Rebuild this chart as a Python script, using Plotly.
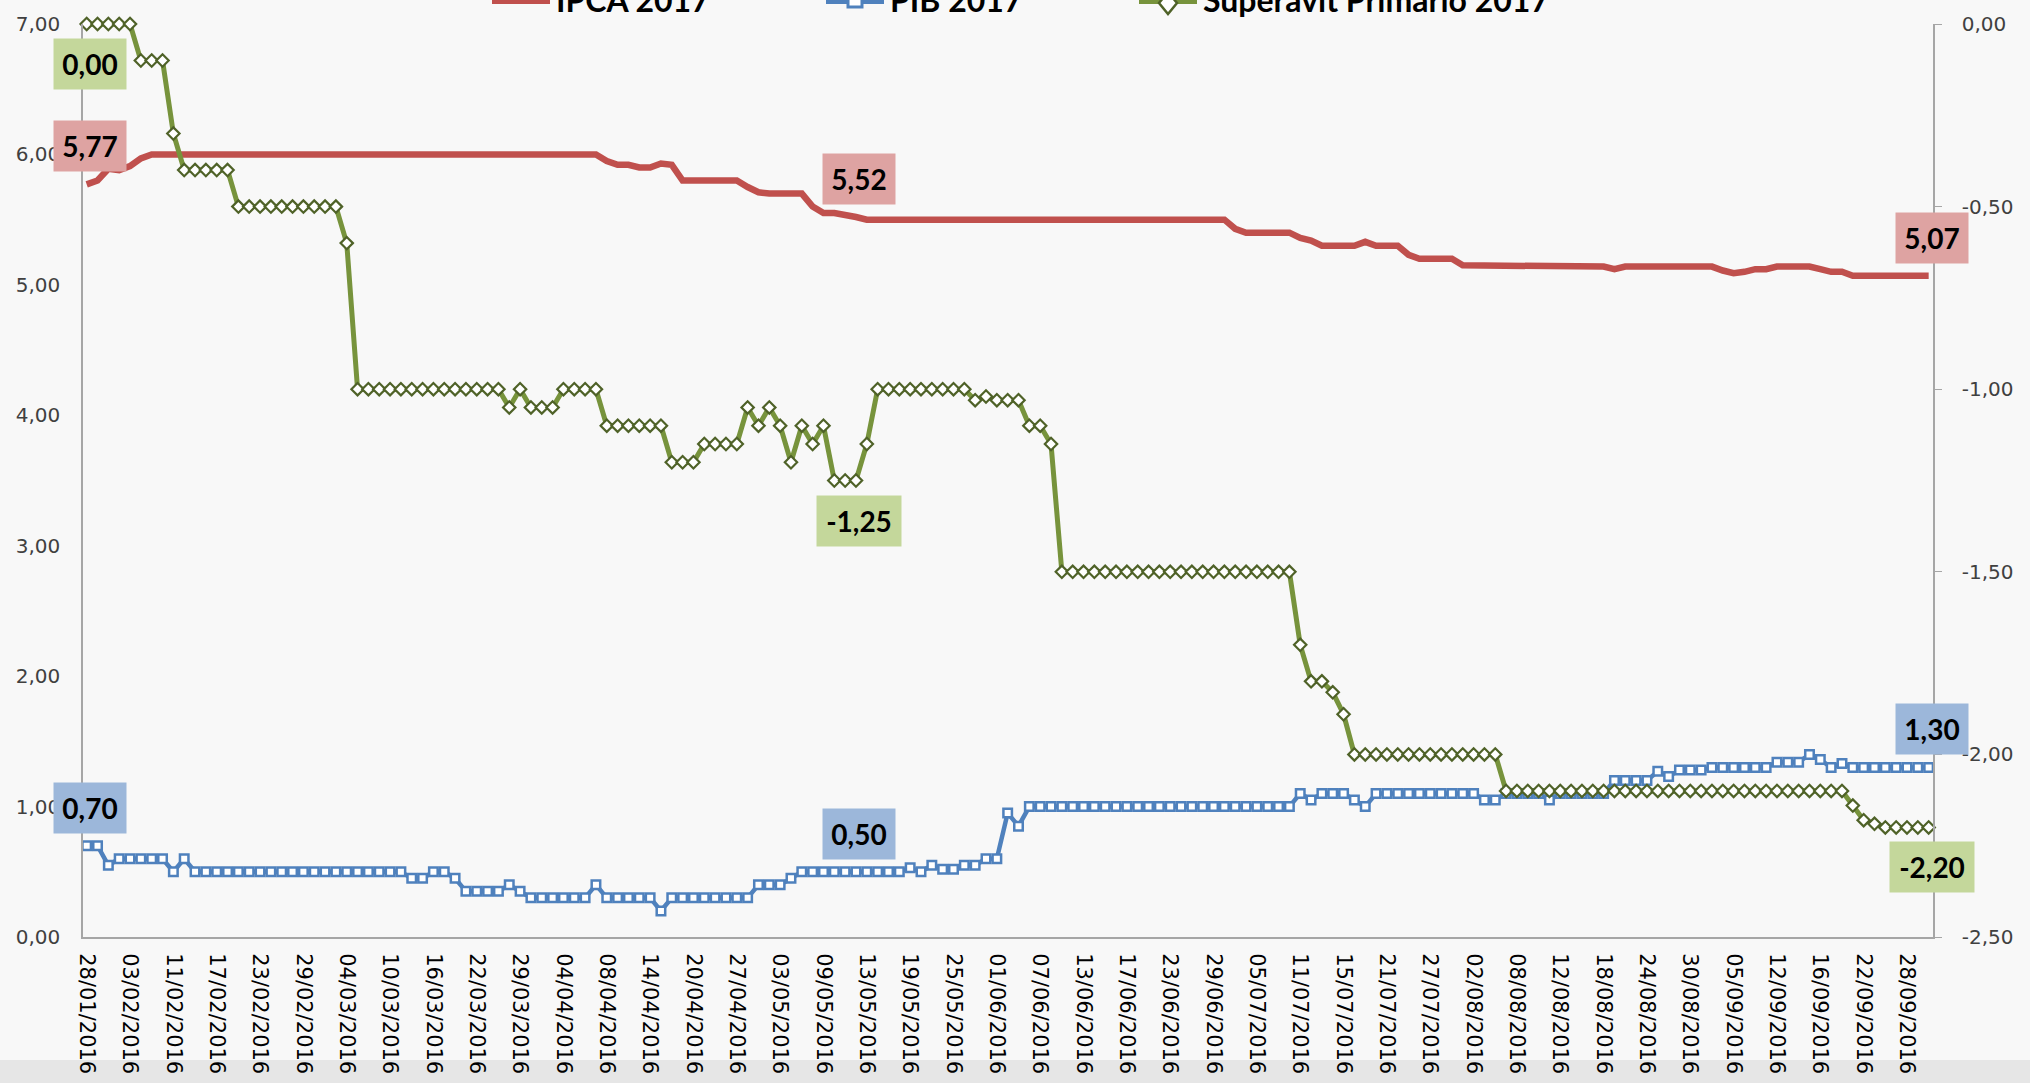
import plotly.graph_objects as go

# Focus survey business days of 2016 (holidays skipped), per month
MONTH_DAYS = {
    "01": [28, 29],
    "02": [1, 2, 3, 4, 5, 10, 11, 12, 15, 16, 17, 18, 19, 22, 23, 24, 25, 26, 29],
    "03": [1, 2, 3, 4, 7, 8, 9, 10, 11, 14, 15, 16, 17, 18, 21, 22, 23, 24, 28, 29, 30, 31],
    "04": [1, 4, 5, 6, 7, 8, 11, 12, 13, 14, 15, 18, 19, 20, 22, 25, 26, 27, 28, 29],
    "05": [2, 3, 4, 5, 6, 9, 10, 11, 12, 13, 16, 17, 18, 19, 20, 23, 24, 25, 27, 30, 31],
    "06": [1, 2, 3, 6, 7, 8, 9, 10, 13, 14, 15, 16, 17, 20, 21, 22, 23, 24, 27, 28, 29, 30],
    "07": [1, 4, 5, 6, 7, 8, 11, 12, 13, 14, 15, 18, 19, 20, 21, 22, 25, 26, 27, 28, 29],
    "08": [1, 2, 3, 4, 5, 8, 9, 10, 11, 12, 15, 16, 17, 18, 19, 22, 23, 24, 25, 26, 29, 30, 31],
    "09": [1, 2, 5, 6, 8, 9, 12, 13, 14, 15, 16, 19, 20, 21, 22, 23, 26, 27, 28, 29, 30],
}
dates = [f"{d:02d}/{m}/2016" for m, days in MONTH_DAYS.items() for d in days]

TICK_LABELS = [
    "28/01/2016", "03/02/2016", "11/02/2016", "17/02/2016", "23/02/2016", "29/02/2016",
    "04/03/2016", "10/03/2016", "16/03/2016", "22/03/2016", "29/03/2016", "04/04/2016",
    "08/04/2016", "14/04/2016", "20/04/2016", "27/04/2016", "03/05/2016", "09/05/2016",
    "13/05/2016", "19/05/2016", "25/05/2016", "01/06/2016", "07/06/2016", "13/06/2016",
    "17/06/2016", "23/06/2016", "29/06/2016", "05/07/2016", "11/07/2016", "15/07/2016",
    "21/07/2016", "27/07/2016", "02/08/2016", "08/08/2016", "12/08/2016", "18/08/2016",
    "24/08/2016", "30/08/2016", "05/09/2016", "12/09/2016", "16/09/2016", "22/09/2016",
    "28/09/2016",
]

LEFT_TICKS = [0, 1, 2, 3, 4, 5, 6, 7]
LEFT_TICK_TEXT = ["0,00", "1,00", "2,00", "3,00", "4,00", "5,00", "6,00", "7,00"]
RIGHT_TICKS = [0, -0.5, -1.0, -1.5, -2.0, -2.5]
RIGHT_TICK_TEXT = ["0,00", "-0,50", "-1,00", "-1,50", "-2,00", "-2,50"]

ipca = [
    5.77, 5.80, 5.89, 5.88, 5.91, 5.97, 6.00, 6.00, 6.00, 6.00, 6.00, 6.00,
    6.00, 6.00, 6.00, 6.00, 6.00, 6.00, 6.00, 6.00, 6.00, 6.00, 6.00, 6.00,
    6.00, 6.00, 6.00, 6.00, 6.00, 6.00, 6.00, 6.00, 6.00, 6.00, 6.00, 6.00,
    6.00, 6.00, 6.00, 6.00, 6.00, 6.00, 6.00, 6.00, 6.00, 6.00, 6.00, 6.00,
    5.95, 5.92, 5.92, 5.90, 5.90, 5.93, 5.92, 5.80, 5.80, 5.80, 5.80, 5.80,
    5.80, 5.75, 5.71, 5.70, 5.70, 5.70, 5.70, 5.60, 5.55, 5.55, 5.54, 5.52,
    5.50, 5.50, 5.50, 5.50, 5.50, 5.50, 5.50, 5.50, 5.50, 5.50, 5.50, 5.50,
    5.50, 5.50, 5.50, 5.50, 5.50, 5.50, 5.50, 5.50, 5.50, 5.50, 5.50, 5.50,
    5.50, 5.50, 5.50, 5.50, 5.50, 5.50, 5.50, 5.50, 5.50, 5.50, 5.43, 5.40,
    5.40, 5.40, 5.40, 5.40, 5.36, 5.34, 5.30, 5.30, 5.30, 5.30, 5.33, 5.30,
    5.30, 5.30, 5.23, 5.20, 5.20, 5.20, 5.20, 5.15, 5.15, 5.15, 5.15, 5.14,
    5.14, 5.14, 5.14, 5.14, 5.14, 5.14, 5.14, 5.14, 5.14, 5.12, 5.14, 5.14,
    5.14, 5.14, 5.14, 5.14, 5.14, 5.14, 5.14, 5.11, 5.09, 5.10, 5.12, 5.12,
    5.14, 5.14, 5.14, 5.14, 5.12, 5.10, 5.10, 5.07, 5.07, 5.07, 5.07, 5.07,
    5.07, 5.07, 5.07,
]

pib = [
    0.70, 0.70, 0.55, 0.60, 0.60, 0.60, 0.60, 0.60, 0.50, 0.60, 0.50, 0.50,
    0.50, 0.50, 0.50, 0.50, 0.50, 0.50, 0.50, 0.50, 0.50, 0.50, 0.50, 0.50,
    0.50, 0.50, 0.50, 0.50, 0.50, 0.50, 0.45, 0.45, 0.50, 0.50, 0.45, 0.35,
    0.35, 0.35, 0.35, 0.40, 0.35, 0.30, 0.30, 0.30, 0.30, 0.30, 0.30, 0.40,
    0.30, 0.30, 0.30, 0.30, 0.30, 0.20, 0.30, 0.30, 0.30, 0.30, 0.30, 0.30,
    0.30, 0.30, 0.40, 0.40, 0.40, 0.45, 0.50, 0.50, 0.50, 0.50, 0.50, 0.50,
    0.50, 0.50, 0.50, 0.50, 0.53, 0.50, 0.55, 0.52, 0.52, 0.55, 0.55, 0.60,
    0.60, 0.95, 0.85, 1.00, 1.00, 1.00, 1.00, 1.00, 1.00, 1.00, 1.00, 1.00,
    1.00, 1.00, 1.00, 1.00, 1.00, 1.00, 1.00, 1.00, 1.00, 1.00, 1.00, 1.00,
    1.00, 1.00, 1.00, 1.00, 1.10, 1.05, 1.10, 1.10, 1.10, 1.05, 1.00, 1.10,
    1.10, 1.10, 1.10, 1.10, 1.10, 1.10, 1.10, 1.10, 1.10, 1.05, 1.05, 1.10,
    1.10, 1.10, 1.10, 1.05, 1.10, 1.10, 1.10, 1.10, 1.10, 1.20, 1.20, 1.20,
    1.20, 1.27, 1.23, 1.28, 1.28, 1.28, 1.30, 1.30, 1.30, 1.30, 1.30, 1.30,
    1.34, 1.34, 1.34, 1.40, 1.36, 1.30, 1.33, 1.30, 1.30, 1.30, 1.30, 1.30,
    1.30, 1.30, 1.30,
]

superavit = [
    0.00, 0.00, 0.00, 0.00, 0.00, -0.10, -0.10, -0.10, -0.30, -0.40, -0.40, -0.40,
    -0.40, -0.40, -0.50, -0.50, -0.50, -0.50, -0.50, -0.50, -0.50, -0.50, -0.50, -0.50,
    -0.60, -1.00, -1.00, -1.00, -1.00, -1.00, -1.00, -1.00, -1.00, -1.00, -1.00, -1.00,
    -1.00, -1.00, -1.00, -1.05, -1.00, -1.05, -1.05, -1.05, -1.00, -1.00, -1.00, -1.00,
    -1.10, -1.10, -1.10, -1.10, -1.10, -1.10, -1.20, -1.20, -1.20, -1.15, -1.15, -1.15,
    -1.15, -1.05, -1.10, -1.05, -1.10, -1.20, -1.10, -1.15, -1.10, -1.25, -1.25, -1.25,
    -1.15, -1.00, -1.00, -1.00, -1.00, -1.00, -1.00, -1.00, -1.00, -1.00, -1.03, -1.02,
    -1.03, -1.03, -1.03, -1.10, -1.10, -1.15, -1.50, -1.50, -1.50, -1.50, -1.50, -1.50,
    -1.50, -1.50, -1.50, -1.50, -1.50, -1.50, -1.50, -1.50, -1.50, -1.50, -1.50, -1.50,
    -1.50, -1.50, -1.50, -1.50, -1.70, -1.80, -1.80, -1.83, -1.89, -2.00, -2.00, -2.00,
    -2.00, -2.00, -2.00, -2.00, -2.00, -2.00, -2.00, -2.00, -2.00, -2.00, -2.00, -2.10,
    -2.10, -2.10, -2.10, -2.10, -2.10, -2.10, -2.10, -2.10, -2.10, -2.10, -2.10, -2.10,
    -2.10, -2.10, -2.10, -2.10, -2.10, -2.10, -2.10, -2.10, -2.10, -2.10, -2.10, -2.10,
    -2.10, -2.10, -2.10, -2.10, -2.10, -2.10, -2.10, -2.14, -2.18, -2.19, -2.20, -2.20,
    -2.20, -2.20, -2.20,
]

assert len(dates) == len(ipca) == len(pib) == len(superavit) == 171

# points that carry a value label (first, middle, last)
LABEL_POINTS = [0, 71, 170]

RED, BLUE, GREEN, GREEN_DARK = "#c0504d", "#4f81bd", "#77933c", "#4f6228"
AXIS_GRAY = "#a6a6a6"

# plot area in pixels
W, H = 2030, 1083
PL, PR, PT, PB = 83, 1933, 24, 937


def px(x):
    return (x - PL) / (PR - PL)


def py(y):
    return (PB - y) / (PB - PT)


fig = go.Figure()

fig.add_trace(
    go.Scatter(
        x=dates, y=ipca, name="IPCA 2017", mode="lines",
        line=dict(color=RED, width=6.5),
    )
)
fig.add_trace(
    go.Scatter(
        x=dates, y=pib, name="PIB 2017", mode="lines+markers",
        line=dict(color=BLUE, width=4.5),
        marker=dict(symbol="square", size=8.5, color="white",
                    line=dict(color=BLUE, width=2.5)),
        cliponaxis=False,
    )
)
fig.add_trace(
    go.Scatter(
        x=dates, y=superavit, name="Superavit Primario 2017", yaxis="y2",
        mode="lines+markers",
        line=dict(color=GREEN, width=5),
        marker=dict(symbol="diamond", size=9.5, color="white",
                    line=dict(color=GREEN_DARK, width=2.2)),
        cliponaxis=False,
    )
)

# value labels in coloured boxes
label_specs = [
    (ipca, "y", 38, "#dea3a2"),
    (pib, "y", 38, "#9cb7da"),
    (superavit, "y2", -40, "#c4d79b"),
]
for series, yref, shift, bg in label_specs:
    for i in LABEL_POINTS:
        v = series[i]
        text = f"{v:.2f}".replace(".", ",")
        fig.add_annotation(
            x=dates[i], y=v, xref="x", yref=yref, yshift=shift, xshift=3,
            text=f"<b>{text}</b>",
            showarrow=False, bgcolor=bg, borderpad=0,
            width=72 if v >= 0 else 84, height=50,
            font=dict(family="Lato", size=28, color="black"),
        )

# legend drawn by hand so it can sit half above the page, as in the original
legend_items = [
    ("IPCA 2017", RED, 492, None),
    ("PIB 2017", BLUE, 826, "square"),
    ("Superavit Primario 2017", GREEN, 1139, "diamond"),
]
for name, color, x0, symbol in legend_items:
    fig.add_shape(
        type="line", xref="paper", yref="paper",
        x0=px(x0), x1=px(x0 + 58), y0=py(0), y1=py(0),
        line=dict(color=color, width=8),
    )
    if symbol == "square":
        fig.add_shape(
            type="rect", xref="paper", yref="paper",
            xsizemode="pixel", ysizemode="pixel",
            xanchor=px(x0 + 29), yanchor=py(0),
            x0=-7, x1=7, y0=-7, y1=7,
            fillcolor="white", line=dict(color=color, width=3),
        )
    elif symbol == "diamond":
        fig.add_shape(
            type="path", xref="paper", yref="paper",
            xsizemode="pixel", ysizemode="pixel",
            xanchor=px(x0 + 29), yanchor=py(3),
            path="M0,11 L9,0 L0,-11 L-9,0 Z",
            fillcolor="white", line=dict(color=GREEN_DARK, width=2.5),
        )
    fig.add_annotation(
        x=px(x0 + 62), y=py(-1), xref="paper", yref="paper",
        xanchor="left", yanchor="middle", showarrow=False,
        text=f"<b>{name}</b>",
        font=dict(family="Lato", size=32, color="black"),
    )

# light grey strip along the bottom edge
fig.add_shape(
    type="rect", xref="paper", yref="paper", layer="below",
    x0=px(0), x1=px(W), y0=py(H), y1=py(1060),
    fillcolor="#e6e6e6", line=dict(width=0),
)

fig.update_layout(
    width=W,
    height=H,
    margin=dict(l=PL, r=W - PR, t=PT, b=H - PB, autoexpand=False),
    paper_bgcolor="#f8f8f8",
    plot_bgcolor="rgba(0,0,0,0)",
    showlegend=False,
    font=dict(family="DejaVu Sans", size=20, color="#404040"),
    xaxis=dict(
        type="category",
        range=[-0.34, 170.4],
        tickmode="array",
        tickvals=TICK_LABELS,
        ticktext=TICK_LABELS,
        tickangle=90,
        tickfont=dict(size=21, color="black"),
        showline=True, linecolor=AXIS_GRAY, linewidth=2,
        showgrid=False, zeroline=False, ticks="",
        ticklabelstandoff=10,
    ),
    yaxis=dict(
        range=[0, 7],
        tickmode="array",
        tickvals=LEFT_TICKS,
        ticktext=LEFT_TICK_TEXT,
        showline=True, linecolor=AXIS_GRAY, linewidth=1.5,
        showgrid=False, zeroline=False, ticks="",
        ticklabelstandoff=17,
    ),
    yaxis2=dict(
        range=[-2.5, 0],
        overlaying="y",
        side="right",
        tickmode="array",
        tickvals=RIGHT_TICKS,
        ticktext=RIGHT_TICK_TEXT,
        showline=True, linecolor=AXIS_GRAY, linewidth=1.5,
        showgrid=False, zeroline=False,
        ticks="outside", ticklen=7, tickcolor=AXIS_GRAY,
        ticklabelstandoff=16,
    ),
)

# drop the browser's default body margin so the figure fills the window
fig.write_html(
    "out.html",
    config={"displayModeBar": False},
    post_script="document.body.style.margin='0px';",
)
